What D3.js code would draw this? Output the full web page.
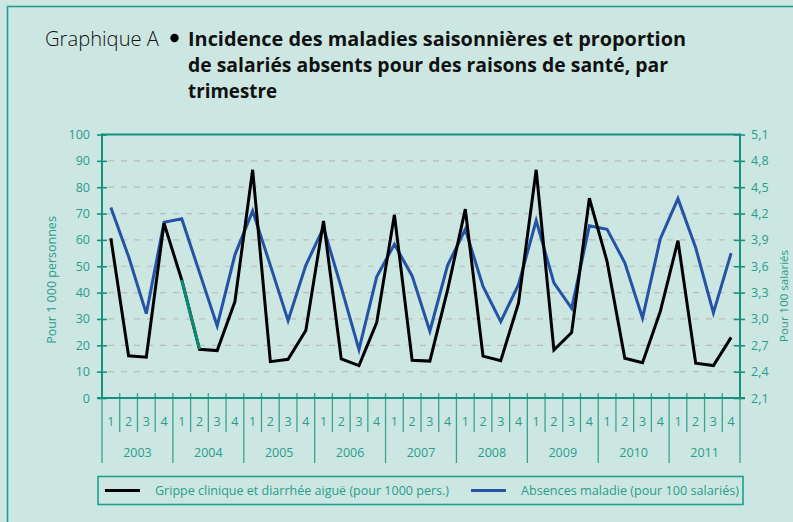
<!DOCTYPE html>
<html>
<head>
<meta charset="utf-8">
<script src="https://cdn.jsdelivr.net/npm/d3@7"></script>
<style>
  html, body { margin: 0; padding: 0; background: #cce7e2; }
  svg { display: block; font-family: "Open Sans", sans-serif; }
</style>
</head>
<body>
<div id="viz"></div>
<script>
const years = ["2003", "2004", "2005", "2006", "2007", "2008", "2009", "2010", "2011"];
const quarters = ["1", "2", "3", "4"];

// Grippe clinique et diarrhée aiguë, pour 1000 personnes (axe de gauche)
const grippe = [
  60.6, 16.0, 15.5, 66.3,
  44.8, 18.5, 18.0, 36.6,
  86.6, 13.8, 14.7, 25.6,
  67.2, 14.8, 12.3, 28.6,
  69.5, 14.3, 14.0, 41.0,
  71.7, 15.9, 14.2, 36.0,
  86.6, 18.2, 24.8, 75.8,
  51.8, 15.1, 13.4, 32.8,
  59.7, 13.2, 12.3, 23.0
];

// Absences maladie, pour 100 salariés (axe de droite)
const absences = [
  4.27, 3.71, 3.06, 4.10,
  4.14, 3.53, 2.92, 3.73,
  4.23, 3.61, 2.98, 3.61,
  4.04, 3.36, 2.65, 3.48,
  3.85, 3.49, 2.86, 3.61,
  4.02, 3.37, 2.97, 3.39,
  4.12, 3.41, 3.12, 4.06,
  4.02, 3.64, 3.01, 3.91,
  4.37, 3.81, 3.07, 3.75
];

// segment of the grippe series drawn in green (2004 T1 -> 2004 T2)
const greenSegment = [4, 5];

const leftTicks = [0, 10, 20, 30, 40, 50, 60, 70, 80, 90, 100];
const rightTicks = [2.1, 2.4, 2.7, 3.0, 3.3, 3.6, 3.9, 4.2, 4.5, 4.8, 5.1];

const titleLines = [
  "Incidence des maladies saisonnières et proportion",
  "de salariés absents pour des raisons de santé, par",
  "trimestre"
];

const width = 793, height = 522;
const plot = { left: 102, right: 740, top: 134.5, bottom: 398 };
const teal = "#14927e";
const tealText = "#2a9c8b";

const svg = d3.select("#viz").append("svg")
  .attr("width", width)
  .attr("height", height);

svg.append("rect")
  .attr("width", width).attr("height", height)
  .attr("fill", "#cce7e2");

// cadre
svg.append("rect")
  .attr("x", 7.5).attr("y", 6.5)
  .attr("width", 900).attr("height", 700)
  .attr("fill", "none")
  .attr("stroke", "#1ea08c")
  .attr("stroke-width", 1.6);

// titre
svg.append("text")
  .attr("x", 45).attr("y", 46)
  .attr("font-size", 20.5)
  .attr("font-weight", 300)
  .attr("fill", "#111")
  .attr("textLength", 114)
  .attr("lengthAdjust", "spacingAndGlyphs")
  .text("Graphique A");

svg.append("circle")
  .attr("cx", 174.5).attr("cy", 38)
  .attr("r", 4.2)
  .attr("fill", "#000");

const titleWidths = [498, 480, 89];
svg.append("g").selectAll("text")
  .data(titleLines)
  .join("text")
  .attr("x", 188)
  .attr("y", (d, i) => 46 + i * 26)
  .attr("font-size", 19.5)
  .attr("font-weight", 700)
  .attr("fill", "#111")
  .attr("textLength", (d, i) => titleWidths[i])
  .attr("lengthAdjust", "spacingAndGlyphs")
  .text(d => d);

const idx = d3.range(grippe.length);

const x = d3.scaleBand()
  .domain(idx)
  .range([plot.left, plot.right]);

const cx = i => x(i) + x.bandwidth() / 2;

const yL = d3.scaleLinear().domain([0, 100]).range([plot.bottom, plot.top]);
const yR = d3.scaleLinear().domain([2.1, 5.1]).range([plot.bottom, plot.top]);

// grille
svg.append("g").selectAll("line")
  .data(leftTicks.slice(1, -1))
  .join("line")
  .attr("x1", plot.left + 6).attr("x2", plot.right - 4)
  .attr("y1", d => yL(d)).attr("y2", d => yL(d))
  .attr("stroke", "#bcbcbc")
  .attr("stroke-width", 1.2)
  .attr("stroke-dasharray", "6,7");

// cadre haut du graphique
svg.append("line")
  .attr("x1", plot.left).attr("x2", plot.right)
  .attr("y1", plot.top).attr("y2", plot.top)
  .attr("stroke", teal).attr("stroke-width", 2);

// axe gauche
const axisL = svg.append("g")
  .attr("transform", `translate(${plot.left},0)`)
  .call(d3.axisLeft(yL).tickValues(leftTicks).tickSize(5).tickPadding(7));
axisL.select(".domain").remove();
axisL.selectAll(".tick line").attr("x1", 5).attr("stroke", teal).attr("stroke-width", 1.6);
axisL.selectAll(".tick text")
  .attr("fill", tealText)
  .attr("font-size", 12.5)
  .attr("font-family", "Open Sans, sans-serif");

// axe droit
const axisR = svg.append("g")
  .attr("transform", `translate(${plot.right},0)`)
  .call(d3.axisRight(yR).tickValues(rightTicks).tickSize(5).tickPadding(6)
    .tickFormat(d => d3.format(".1f")(d).replace(".", ",")));
axisR.select(".domain").remove();
axisR.selectAll(".tick line").attr("x1", -6).attr("stroke", teal).attr("stroke-width", 1.6);
axisR.selectAll(".tick text")
  .attr("fill", tealText)
  .attr("font-size", 12.5)
  .attr("font-family", "Open Sans, sans-serif");

// lignes verticales des axes (prolongées jusqu'aux années)
[plot.left, plot.right].forEach(px => {
  svg.append("line")
    .attr("x1", px).attr("x2", px)
    .attr("y1", plot.top - 1).attr("y2", plot.bottom)
    .attr("stroke", teal).attr("stroke-width", 2);
});

// axe des abscisses
svg.append("line")
  .attr("x1", plot.left - 5).attr("x2", plot.right + 5)
  .attr("y1", plot.bottom).attr("y2", plot.bottom)
  .attr("stroke", teal).attr("stroke-width", 2);

const bounds = idx.map(i => x(i)).concat([x(idx.length - 1) + x.bandwidth()]);

svg.append("g").selectAll("line")
  .data(bounds)
  .join("line")
  .attr("x1", d => d).attr("x2", d => d)
  .attr("y1", plot.bottom - 5)
  .attr("y2", (d, i) => i % 4 === 0 ? 463 : 432)
  .attr("stroke", teal)
  .attr("stroke-opacity", 0.8)
  .attr("stroke-width", 1.3);

const quarterLabels = years.flatMap(y => quarters.map(q => q));
svg.append("g").selectAll("text")
  .data(quarterLabels)
  .join("text")
  .attr("x", (d, i) => cx(i))
  .attr("y", 426)
  .attr("text-anchor", "middle")
  .attr("font-size", 12.5)
  .attr("fill", tealText)
  .text(d => d);

svg.append("g").selectAll("text")
  .data(years)
  .join("text")
  .attr("x", (d, i) => (x(i * 4) + x(i * 4 + 3) + x.bandwidth()) / 2)
  .attr("y", 457)
  .attr("text-anchor", "middle")
  .attr("font-size", 12.5)
  .attr("fill", tealText)
  .text(d => d);

// titres des axes
svg.append("text")
  .attr("transform", "translate(56,280) rotate(-90)")
  .attr("text-anchor", "middle")
  .attr("font-size", 12.5)
  .attr("fill", tealText)
  .text("Pour 1 000 personnes");

svg.append("text")
  .attr("transform", "translate(788,342) rotate(-90)")
  .attr("text-anchor", "start")
  .attr("font-size", 11.5)
  .attr("fill", tealText)
  .text("Pour 100 salariés");

// séries
const lineL = d3.line().x(d => cx(d.i)).y(d => yL(d.v));
const lineR = d3.line().x(d => cx(d.i)).y(d => yR(d.v));

svg.append("path")
  .datum(absences.map((v, i) => ({ i, v })))
  .attr("d", lineR)
  .attr("fill", "none")
  .attr("stroke", "#2453a5")
  .attr("stroke-width", 3)
  .attr("stroke-linejoin", "miter");

svg.append("path")
  .datum(grippe.map((v, i) => ({ i, v })))
  .attr("d", lineL)
  .attr("fill", "none")
  .attr("stroke", "#000")
  .attr("stroke-width", 3)
  .attr("stroke-linejoin", "miter");

svg.append("path")
  .datum(greenSegment.map(i => ({ i, v: grippe[i] })))
  .attr("d", lineL)
  .attr("fill", "none")
  .attr("stroke", "#0c8a72")
  .attr("stroke-width", 3);

// légende
const legend = svg.append("g");
legend.append("rect")
  .attr("x", 98).attr("y", 476.5)
  .attr("width", 645).attr("height", 28)
  .attr("fill", "none")
  .attr("stroke", "#1ea08c")
  .attr("stroke-width", 1.6);

const legendItems = [
  { label: "Grippe clinique et diarrhée aiguë (pour 1000 pers.)", color: "#000", x0: 105, x1: 140, tx: 155, tl: 294 },
  { label: "Absences maladie (pour 100 salariés)", color: "#2453a5", x0: 471, x1: 506, tx: 521, tl: 218 }
];

legendItems.forEach(it => {
  legend.append("line")
    .attr("x1", it.x0).attr("x2", it.x1)
    .attr("y1", 490.5).attr("y2", 490.5)
    .attr("stroke", it.color)
    .attr("stroke-width", 3);
  legend.append("text")
    .attr("x", it.tx).attr("y", 495)
    .attr("font-size", 12.5)
    .attr("fill", tealText)
    .attr("textLength", it.tl)
    .attr("lengthAdjust", "spacingAndGlyphs")
    .text(it.label);
});
</script>
</body>
</html>
